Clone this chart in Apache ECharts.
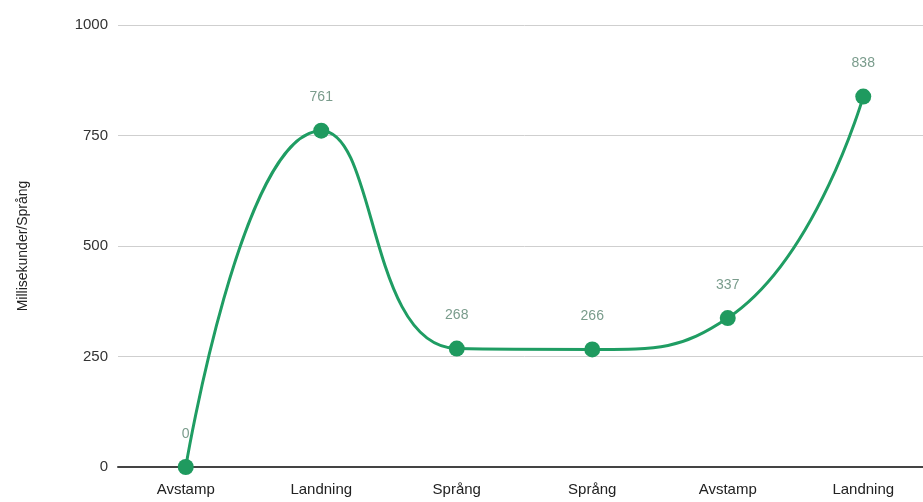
<!DOCTYPE html>
<html>
<head>
<meta charset="utf-8">
<script src="https://cdn.jsdelivr.net/npm/echarts@6/dist/echarts.min.js"></script>
<style>
  html, body { margin: 0; padding: 0; background: #fff; overflow: hidden; }
  #chart { width: 931px; height: 502px; }
</style>
</head>
<body>
<div id="chart"></div>
<script>
  const categories = ['Avstamp', 'Landning', 'Språng', 'Språng', 'Avstamp', 'Landning']
  const values = [0, 761, 268, 266, 337, 838]
  const yTicks = [0, 250, 500, 750, 1000]

  // chart is a bit wider than the window, the plot runs off the right edge like the original
  const myChart = echarts.init(document.getElementById('chart'))
  myChart.setOption({
    animation: false,
    grid: {
      left: 118,
      top: 25,
      right: 0,
      bottom: 35
    },
    xAxis: {
      type: 'category',
      data: categories,
      axisLine: { lineStyle: { color: '#444', width: 2 } },
      axisTick: { show: false },
      axisLabel: {
        color: '#222',
        fontSize: 15,
        fontFamily: 'Arial, Liberation Sans',
        margin: 15
      }
    },
    yAxis: {
      type: 'value',
      min: yTicks[0],
      max: yTicks[yTicks.length - 1],
      interval: 250,
      name: 'Millisekunder/Språng',
      nameLocation: 'middle',
      nameGap: 88,
      nameTextStyle: {
        color: '#222',
        fontSize: 14,
        fontFamily: 'Arial, Liberation Sans'
      },
      axisLine: { show: false },
      axisTick: { show: false },
      axisLabel: {
        color: '#333',
        fontSize: 15,
        fontFamily: 'Arial, Liberation Sans',
        margin: 10,
        formatter: v => String(v)
      },
      splitLine: { lineStyle: { color: '#cfcfcf', width: 1 } }
    },
    series: [
      {
        type: 'line',
        data: values,
        smooth: 0.5,
        symbol: 'circle',
        symbolSize: 16,
        itemStyle: { color: '#1f9a5f' },
        lineStyle: { color: '#1f9d63', width: 3 },
        label: {
          show: true,
          position: 'top',
          distance: 18,
          color: '#7a9c8c',
          fontSize: 14,
          fontFamily: 'Arial, Liberation Sans'
        },
        z: 5
      }
    ]
  })
</script>
</body>
</html>
